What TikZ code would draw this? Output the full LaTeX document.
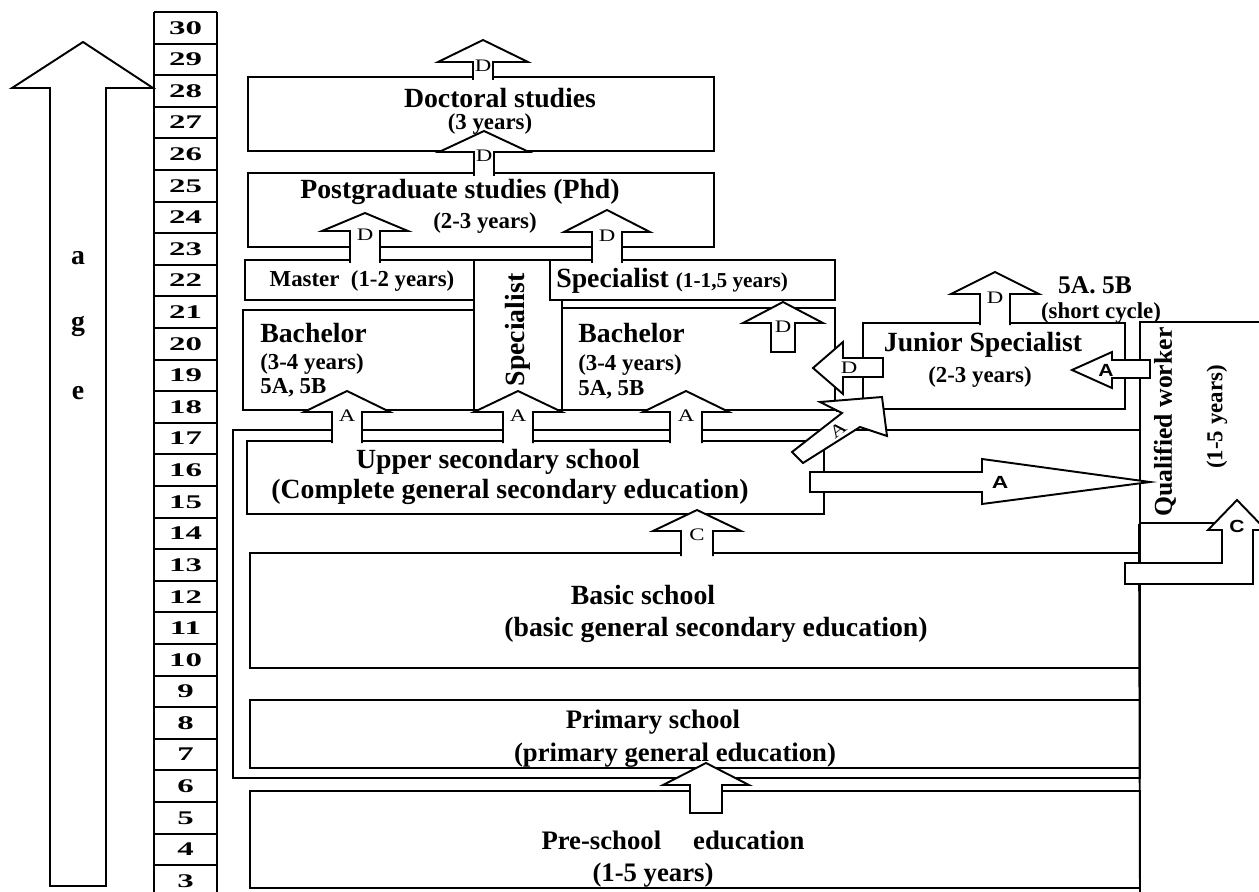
\documentclass[tikz,border=0pt]{standalone}
\usepackage{fontspec}
\setmainfont{Liberation Serif}
\newfontfamily\lsans{Liberation Sans}
\usetikzlibrary{fit}
\newcommand{\uarr}[8]{%
  \fill[white] (#2-#6,#3) -- (#2-#6,#4) -- (#2-#7,#4) -- (#2,#5) -- (#2+#7,#4) -- (#2+#6,#4) -- (#2+#6,#3) -- cycle;
  \draw[ln] (#2-#6,#3) -- (#2-#6,#4) -- (#2-#7,#4) -- (#2,#5) -- (#2+#7,#4) -- (#2+#6,#4) -- (#2+#6,#3);
  \node[lab] (#1) at (#2,#4+4) {\scalebox{1.3}[1]{#8}};}
\newcommand{\uarrc}[8]{%
  \draw[arr] (#2-#6,#3) -- (#2-#6,#4) -- (#2-#7,#4) -- (#2,#5) -- (#2+#7,#4) -- (#2+#6,#4) -- (#2+#6,#3) -- cycle;
  \node[lab] (#1) at (#2,#4+4) {\scalebox{1.3}[1]{#8}};}
\begin{document}
\begin{tikzpicture}[x=0.02cm,y=-0.02cm,
  ln/.style={line width=1.1pt, line join=miter},
  box/.style={draw, line width=1.1pt, inner sep=0pt},
  arr/.style={draw, line width=1.1pt, fill=white, line join=miter},
  fa/.style={font=\fontsize{15.8}{18}\selectfont\bfseries, inner sep=0pt},
  fb/.style={font=\fontsize{13}{15}\selectfont\bfseries, inner sep=0pt},
  fc/.style={font=\fontsize{15.2}{17}\selectfont\bfseries, inner sep=0pt},
  fq/.style={font=\fontsize{14.6}{17}\selectfont\bfseries, inner sep=0pt},
  lab/.style={font=\fontsize{10}{11}\selectfont, inner sep=0pt},
  slab/.style={font=\lsans\fontsize{10}{11}\selectfont\bfseries, inner sep=0pt},
  age/.style={font=\fontsize{11}{12}\selectfont\bfseries, inner sep=0pt}
]
\useasboundingbox (0,0) rectangle (1259,892);
\clip (0,0) rectangle (1259,892);
\fill[white] (0,0) rectangle (1259,892);

% ---- age arrow at the left
\draw[arr] (50,886) -- (50,88) -- (12,88) -- (83,42) -- (153,88) -- (106,88) -- (106,886) -- cycle;
\node[fa] (la) at (78,258) {a};
\node[fa] (lg) at (78,326) {g};
\node[fa] (le) at (78,393) {e};

% ---- age scale
\draw[ln] (154,12) -- (154,900);
\draw[ln] (217,12) -- (217,900);
\foreach \i in {0,...,27} \draw[ln] (154,{12+\i*31.6}) -- (217,{12+\i*31.6});
\foreach \n in {30,...,3}
  \node[age] (age\n) at (185.5,{12+(30.5-\n)*31.6}) {\scalebox{1.7}[1]{\n}};

% ---- boxes
\node[box, fit={(248,77) (714,151)}] (doc) {};
\node[box, fit={(248,173) (714,247)}] (pg) {};
\node[box, fit={(245,260) (474,300)}] (mas) {};
\node[box, fit={(550,260) (835,300)}] (spc) {};
\node[box, fit={(243,310) (474,410)}] (ba1) {};
\node[box, fit={(562,308) (835,410)}] (ba2) {};
\draw[ln] (474,260) -- (550,260) -- (550,300) -- (562,300) -- (562,410) -- (474,410) -- cycle;
\coordinate (specv) at (518,330);
\node[box, fit={(863,323) (1125,409)}] (jun) {};
\draw[ln] (ba2.south east) -- (jun.south west);
\node[box, fit={(1140,322) (1300,523)}] (qual) {};
\node[box, fit={(233,430) (1140,778)}] (frame) {};
\node[box, fit={(247,441) (824,514)}] (upp) {};
\node[box, fit={(250,553) (1140,668)}] (bas) {};
\node[box, fit={(250,700) (1140,768)}] (pri) {};
\node[box, fit={(250,791) (1140,888)}] (pre) {};
\draw[ln] (qual.south west) -- (1140,895);

% ---- vertical block arrows
\uarr{dtop}{483}{80}{62}{40}{10}{45}{D}
\uarr{dpg}{484}{176}{152}{131}{10}{45}{D}
\uarr{dmas}{365}{263}{231}{213}{15}{43}{D}
\uarr{dspc}{607}{263}{232}{210}{15}{43}{D}
\uarr{aba1}{347}{443}{412}{391}{15}{43}{A}
\uarr{aspv}{518}{443}{412}{391}{15}{44}{A}
\uarr{aba2}{686}{443}{412}{391}{16}{43}{A}
\uarrc{dba2}{783}{352}{323}{302}{12}{40}{D}
\uarr{dsc}{995}{325}{294}{272}{15}{44}{D}
\uarr{cup}{697}{556}{531}{510}{16}{44}{C}
\uarrc{ppre}{706}{813}{785}{763}{16}{43}{}

% ---- horizontal and oblique block arrows
\draw[arr] (883,358) -- (843,358) -- (843,342) -- (813,368) -- (843,394) -- (843,377) -- (883,377) -- cycle;
\node[lab] (djun) at (849,368) {\scalebox{1.3}[1]{D}};
\draw[arr] (1150,360) -- (1112,360) -- (1112,352) -- (1072,370) -- (1112,388) -- (1112,378) -- (1150,378) -- cycle;
\node[slab] (aq) at (1106,370) {\scalebox{1.2}[1]{A}};
\draw[arr] (810,472) -- (982,472) -- (982,459) -- (1150,482) -- (982,504) -- (982,492) -- (810,492) -- cycle;
\node[slab] (aqw) at (1000,482) {\scalebox{1.3}[1]{A}};
\draw[arr] (792,452) -- (842,413) -- (820,402) -- (882,397) -- (887,436) -- (860,427) -- (803,463) -- cycle;
\node[lab, rotate=37] (adiag) at (838,430) {\scalebox{1.3}[1]{A}};
\draw[arr] (1125,563) -- (1222,563) -- (1222,530) -- (1208,530) -- (1237,500) -- (1266,530) -- (1253,530) -- (1253,584) -- (1125,584) -- cycle;
\node[slab] (cq) at (1237,526) {\scalebox{1.2}[1]{C}};

% ---- texts
\node[fa] (tdoc) at (500,98) {Doctoral studies};
\node[fb] (tdoc2) at (490,124) {(3 years)};
\node[fa] (tpg) at (460,192) {Postgraduate studies (Phd)};
\node[fb] (tpg2) at (485,223) {(2-3 years)};
\node[fb] (tmas) at (362,281) {Master\ \ (1-2 years)};
\node[fa, anchor=west] (tspc) at (556,281) {Specialist {\fontsize{12.1}{14}\selectfont (1-1,5 years)}};
\node[fa, rotate=90] (tspv) at (specv) {Specialist};
\node[fa, anchor=west] (tb1) at (260,333) {Bachelor};
\node[fb, anchor=west] (tb1b) at (260,364) {(3-4 years)};
\node[fb, anchor=west] (tb1c) at (260,388) {5A, 5B};
\node[fa, anchor=west] (tb2) at (578,333) {Bachelor};
\node[fb, anchor=west] (tb2b) at (578,365) {(3-4 years)};
\node[fb, anchor=west] (tb2c) at (578,390) {5A, 5B};
\node[fa] (tup) at (498,462) {Upper secondary school};
\node[fa] (tup2) at (510,492) {(Complete general secondary education)};
\node[fa] (tbas) at (643,595) {Basic school};
\node[fa] (tbas2) at (716,630) {(basic general secondary education)};
\node[fc] (tpri) at (653,722) {Primary school};
\node[fc] (tpri2) at (675,755) {(primary general education)};
\node[fc] (tpre) at (673,840) {Pre-school\hspace{1.2em}education};
\node[fc] (tpre2) at (653,875) {(1-5 years)};
\node[fa] (tjun) at (983,345) {Junior Specialist};
\node[fb] (tjun2) at (980,377) {(2-3 years)};
\node[font=\fontsize{14.5}{16}\selectfont\bfseries, inner sep=0pt] (tsc) at (1095,285) {5A. 5B};
\node[fb] (tsc2) at (1101,313) {(short cycle)};
\node[fq, rotate=90] (tq) at (1165,422) {Qualified worker};
\node[fb, rotate=90] (tq2) at (1217,417) {(1-5 years)};
\end{tikzpicture}
\end{document}
